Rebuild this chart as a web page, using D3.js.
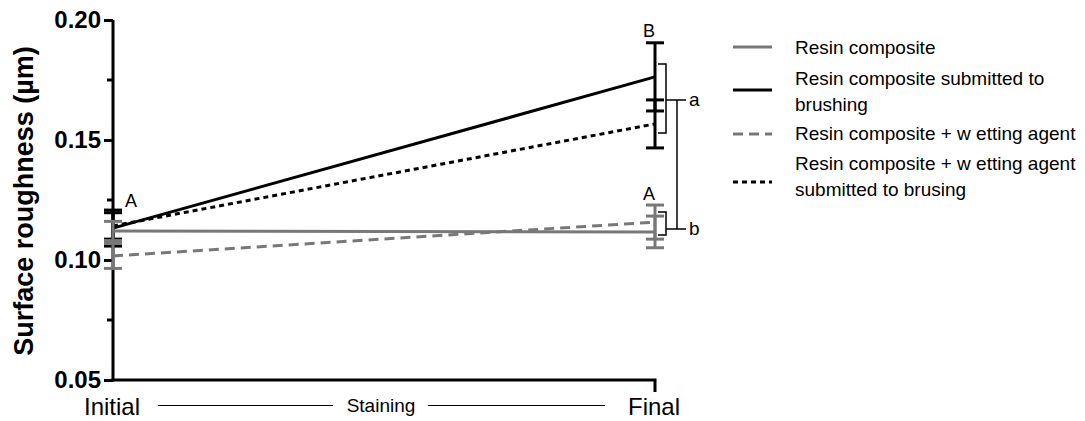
<!DOCTYPE html>
<html>
<head>
<meta charset="utf-8">
<script src="https://cdn.jsdelivr.net/npm/d3@7"></script>
<style>
  body { margin: 0; background: #fff; }
  text { font-family: "Liberation Sans", Arial, sans-serif; }
</style>
</head>
<body>
<script>
// data
var timepoints = ["Initial", "Final"];
var seriesNames = [
  "Resin composite",
  "Resin composite submitted to brushing",
  "Resin composite + w etting agent",
  "Resin composite + w etting agent submitted to brusing"
];
var initialMean = [0.1121, 0.1133, 0.1017, 0.1142];
var finalMean   = [0.1117, 0.1763, 0.1158, 0.1567];
var initialErr  = [0.0040, 0.0075, 0.0052, 0.0055];
var finalErr    = [0.0066, 0.0142, 0.0071, 0.0100];
var yTicks = [0.05, 0.10, 0.15, 0.20];
var yMinor = [0.075, 0.125, 0.175];
var legendLines = [
  ["Resin composite"],
  ["Resin composite submitted to", "brushing"],
  ["Resin composite + w etting agent"],
  ["Resin composite + w etting agent", "submitted to brusing"]
];
var finalLetters = ["A", "B"];

var W = 1085, H = 421;
var x0 = 113, x1 = 655, yTop = 20, yBot = 380;
var gray = "#787878";
var styles = [
  {color: gray, dash: null},
  {color: "#000", dash: null},
  {color: gray, dash: "10,6"},
  {color: "#000", dash: "5,4"}
];

var svg = d3.select("body").append("svg").attr("width", W).attr("height", H);

var x = d3.scalePoint().domain(timepoints).range([x0, x1]);
var y = d3.scaleLinear().domain([0.05, 0.20]).range([yBot, yTop]);

// y axis
var yAxis = svg.append("g").attr("transform", "translate(" + x0 + ",0)")
  .call(d3.axisLeft(y).tickValues(yTicks).tickFormat(d3.format(".2f")).tickSize(9).tickPadding(3));
yAxis.select(".domain").attr("stroke-width", 3).attr("d", "M0," + yTop + "V" + (yBot + 1.5));
yAxis.selectAll(".tick line").attr("stroke-width", 3);
yAxis.selectAll(".tick text").attr("font-size", 24).attr("font-weight", "bold").attr("fill", "#000");
svg.append("g").selectAll("line").data(yMinor).enter().append("line")
  .attr("x1", x0 - 6).attr("x2", x0).attr("y1", d => y(d)).attr("y2", d => y(d))
  .attr("stroke", "#000").attr("stroke-width", 3);

svg.append("text")
  .attr("transform", "translate(33," + 201 + ") rotate(-90)")
  .attr("text-anchor", "middle").attr("font-size", 27).attr("font-weight", "bold")
  .text("Surface roughness (\u00b5m)");

// x axis
svg.append("path").attr("d", "M" + (x0 - 1.5) + "," + yBot + "H" + x1 + "V" + (yBot + 12))
  .attr("fill", "none").attr("stroke", "#000").attr("stroke-width", 3);
svg.selectAll(".xlab").data(timepoints).enter().append("text")
  .attr("x", d => x(d) - 1).attr("y", 415).attr("text-anchor", "middle")
  .attr("font-size", 24).text(d => d);
svg.append("text").attr("x", 381).attr("y", 412).attr("text-anchor", "middle")
  .attr("font-size", 19).text("Staining");
[[158, 333], [428, 605]].forEach(function(s) {
  svg.append("line").attr("x1", s[0]).attr("x2", s[1]).attr("y1", 405.5).attr("y2", 405.5)
    .attr("stroke", "#000").attr("stroke-width", 1);
});

// series
var order = [1, 3, 0, 2];
var capW = 9;
order.forEach(function(i) {
  var st = styles[i];
  var pts = [[timepoints[0], initialMean[i], initialErr[i]], [timepoints[1], finalMean[i], finalErr[i]]];
  var g = svg.append("g");
  pts.forEach(function(p) {
    var cx = x(p[0]);
    g.append("line").attr("x1", cx).attr("x2", cx)
      .attr("y1", y(p[1] + p[2])).attr("y2", y(p[1] - p[2]))
      .attr("stroke", st.color).attr("stroke-width", 3);
    [p[1] + p[2], p[1] - p[2]].forEach(function(v) {
      g.append("line").attr("x1", cx - capW).attr("x2", cx + capW)
        .attr("y1", y(v)).attr("y2", y(v))
        .attr("stroke", st.color).attr("stroke-width", 3);
    });
  });
  g.append("path").datum(pts)
    .attr("d", d3.line().x(d => x(d[0])).y(d => y(d[1])))
    .attr("fill", "none").attr("stroke", st.color).attr("stroke-width", 3)
    .attr("stroke-dasharray", st.dash);
});

// letters
svg.append("text").attr("x", 131).attr("y", 207).attr("text-anchor", "middle")
  .attr("font-size", 18).text("A");
svg.append("text").attr("x", x1 - 6).attr("y", 200).attr("text-anchor", "middle")
  .attr("font-size", 18).text(finalLetters[0]);
svg.append("text").attr("x", x1 - 6).attr("y", 37).attr("text-anchor", "middle")
  .attr("font-size", 18).text(finalLetters[1]);

// significance brackets
function bracket(top, bot, midY, label) {
  svg.append("path")
    .attr("d", "M658," + top + "H666V" + bot + "H658M666," + midY + "H686")
    .attr("fill", "none").attr("stroke", "#000").attr("stroke-width", 1.5);
  svg.append("text").attr("x", 689).attr("y", midY + 6).attr("font-size", 19).text(label);
}
bracket(64, 133, 100, "a");
bracket(212, 235, 229, "b");
svg.append("line").attr("x1", 677).attr("x2", 677).attr("y1", 100).attr("y2", 229)
  .attr("stroke", "#000").attr("stroke-width", 1.5);

// legend
var legY = [47, 90, 134, 182];
var legText = [54, 85, 140, 170];
var leg = svg.append("g");
legendLines.forEach(function(lines, i) {
  var st = styles[i];
  leg.append("line").attr("x1", 733).attr("x2", 772).attr("y1", legY[i]).attr("y2", legY[i])
    .attr("stroke", st.color).attr("stroke-width", 3).attr("stroke-dasharray", st.dash);
  var t = leg.append("text").attr("x", 795).attr("font-size", 19);
  lines.forEach(function(s, k) {
    t.append("tspan").attr("x", 795).attr("y", legText[i] + k * 26).text(s);
  });
});
</script>
</body>
</html>
